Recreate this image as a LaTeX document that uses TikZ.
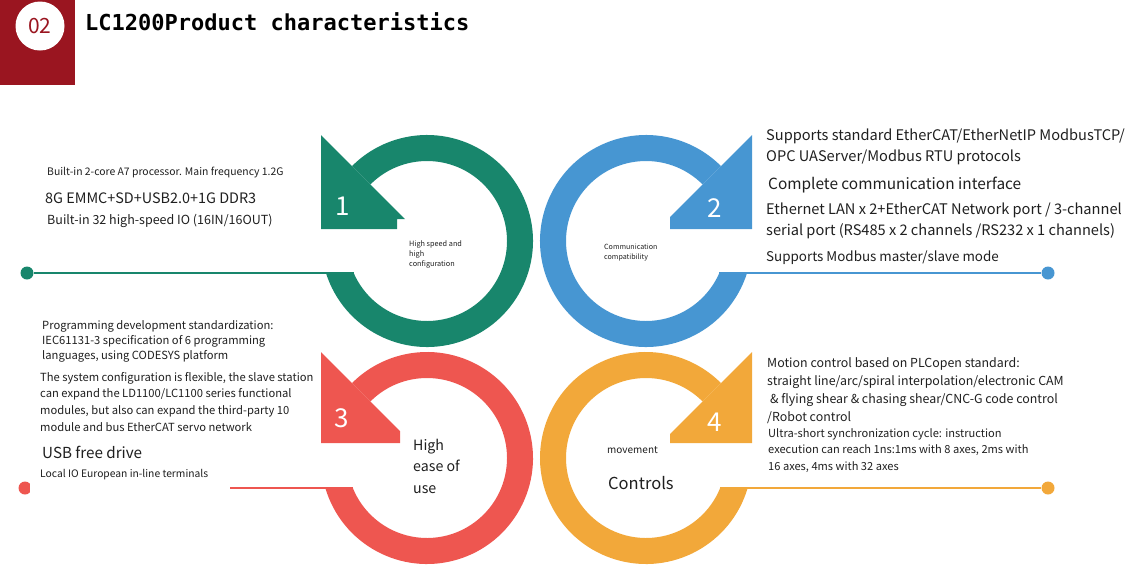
\documentclass[tikz,border=0pt]{standalone}
\usepackage{fontspec}
\setmainfont{Noto Sans CJK SC}
\newfontfamily\titlefont{DejaVu Sans Mono}
\usetikzlibrary{calc}

\definecolor{hdred}{RGB}{154,21,32}
\definecolor{ringgreen}{RGB}{24,134,108}
\definecolor{ringblue}{RGB}{71,150,210}
\definecolor{ringred}{RGB}{238,86,80}
\definecolor{ringorange}{RGB}{242,168,58}

\newcommand{\txtsize}[2]{\fontsize{#1}{#2}\selectfont}

\tikzset{
    txt/.style={anchor=north west, inner sep=0pt, align=left, text=black!88},
    enddot/.style={circle, minimum size=13pt, inner sep=0pt},
    link/.style={line width=2pt},
    digit/.style={text=white, inner sep=0pt, font=\txtsize{26}{26}},
}

\begin{document}
\begin{tikzpicture}[x=1pt, y=1pt]
    \useasboundingbox (0,0) rectangle (1137,-571);

    % header
    \node (badge) [rectangle, fill=hdred, minimum width=75, minimum height=85, anchor=north west, inner sep=0] at (0,0) {};
    \node (badgenum) [circle, fill=white, minimum size=49, inner sep=0] at (40,-26) {\txtsize{21}{21}\color{hdred}02};
    \node (title) [anchor=west, inner sep=0] at (85,-22) {\titlefont\bfseries\txtsize{22}{22}LC1200Product characteristics};

    % ring centers
    \coordinate (c1) at (427,-241);
    \coordinate (c2) at (646,-241);
    \coordinate (c3) at (427,-458);
    \coordinate (c4) at (646,-458);

    % ring 1
    \fill [ringgreen] ($(c1)+(197.55:106)$) arc[start angle=197.55, end angle=495, radius=106]
        -- ($(c1)+(135:80)$) arc[start angle=135, end angle=-156.42, radius=80] -- cycle;
    \fill [ringgreen] (321,-135) -- (321,-229) -- (397,-229) -- (397,-219) -- (405,-219) -- cycle;
    % ring 2
    \fill [ringblue] ($(c2)+(-17.55:106)$) arc[start angle=-17.55, end angle=-315, radius=106]
        -- ($(c2)+(45:80)$) arc[start angle=-315, end angle=-23.58, radius=80] -- cycle;
    \fill [ringblue] (752,-135) -- (752,-229) -- (670,-229) -- (670,-217) -- cycle;
    % ring 3
    \fill [ringred] ($(c3)+(196.44:106)$) arc[start angle=196.44, end angle=495, radius=106]
        -- ($(c3)+(135:80)$) arc[start angle=135, end angle=-157.98, radius=80] -- cycle;
    \fill [ringred] (321,-352) -- (321,-443) -- (400,-443) -- (400,-431) -- cycle;
    % ring 4
    \fill [ringorange] ($(c4)+(-16.44:106)$) arc[start angle=-16.44, end angle=-315, radius=106]
        -- ($(c4)+(45:80)$) arc[start angle=-315, end angle=-22.02, radius=80] -- cycle;
    \fill [ringorange] (752,-352) -- (752,-443) -- (670,-443) -- (670,-434) -- cycle;

    % connectors
    \node (gdot) [enddot, fill=ringgreen] at (27,-273) {};
    \node (bdot) [enddot, fill=ringblue] at (1048,-273) {};
    \node (rdot) [enddot, fill=ringred] at (25,-488) {};
    \node (odot) [enddot, fill=ringorange] at (1048,-488) {};
    \coordinate (gcut) at (354,-273);
    \coordinate (bcut) at (719,-273);
    \coordinate (rcut) at (353,-488);
    \coordinate (ocut) at (720,-488);
    \draw [link, ringgreen] (gdot) -- (gcut);
    \draw [link, ringblue] (bcut) -- (bdot);
    \draw [link, ringred] (rdot) -- (rcut);
    \draw [link, ringorange] (ocut) -- (odot);
    \fill [white] (30,-440) rectangle (230,-494);

    % digits
    \node (n1) [digit] at (343,-206) {1};
    \node (n2) [digit] at (715,-208) {2};
    \node (n3) [digit] at (342,-418) {3};
    \node (n4) [digit] at (715,-422) {4};

    % inner labels
    \node (lab1) [txt, font=\txtsize{7.3}{10}] at (409,-240.5) {High speed and\\ high\\configuration};
    \node (lab2) [txt, font=\txtsize{7.1}{10}] at (604,-244) {Communication\\compatibility};
    \node (lab3) [txt, font=\txtsize{14.2}{21.5}] at (413,-438.6) {High\\ease of\\use};
    \node (lab4a) [txt, font=\txtsize{10}{12}] at (607,-446.5) {movement};
    \node (lab4b) [txt, font=\txtsize{16.5}{20}] at (608,-476) {Controls};

    % texts of ring 1
    \node (t1a) [txt, font=\txtsize{10.4}{13}] at (47,-167.3) {Built-in 2-core A7 processor. Main frequency 1.2G};
    \node (t1b) [txt, font=\txtsize{14.4}{17}] at (45,-192.5) {8G EMMC+SD+USB2.0+1G DDR3};
    \node (t1c) [txt, font=\txtsize{12.5}{15}] at (47,-214.4) {Built-in 32 high-speed IO (16IN/16OUT)};

    % texts of ring 2
    \node (t2a) [txt, font=\txtsize{14.6}{21}] at (766,-128.4) {Supports standard EtherCAT/EtherNetIP ModbusTCP/\\OPC UAServer/Modbus RTU protocols};
    \node (t2b) [txt, font=\txtsize{15.4}{19}] at (768,-177) {Complete communication interface};
    \node (t2c) [txt, font=\txtsize{14.6}{21}] at (766,-202.4) {Ethernet LAN x 2+EtherCAT Network port / 3-channel\\serial port (RS485 x 2 channels /RS232 x 1 channels)};
    \node (t2d) [txt, font=\txtsize{13.4}{16}] at (766,-251) {Supports Modbus master/slave mode};

    % texts of ring 3
    \node (t3a) [txt, font=\txtsize{11.2}{15}] at (42,-320) {Programming development standardization:\\IEC61131-3 specification of 6 programming\\languages, using CODESYS platform};
    \node (t3b) [txt, font=\txtsize{11.2}{16.7}] at (40,-372) {The system configuration is flexible, the slave station\\can expand the LD1100/LC1100 series functional\\modules, but also can expand the third-party 10\\module and bus EtherCAT servo network};
    \node (t3c) [txt, font=\txtsize{15.2}{18}] at (42,-446.2) {USB free drive};
    \node (t3d) [txt, font=\txtsize{10.3}{12}] at (40,-469.4) {Local IO European in-line terminals};

    % texts of ring 4
    \node (t4a) [txt, font=\txtsize{12.4}{18}] at (767,-357.4) {Motion control based on PLCopen standard:\\straight line/arc/spiral interpolation/electronic CAM\\\hspace{3pt}\& flying shear \& chasing shear/CNC-G code control\\/Robot control};
    \node (t4b) [txt, font=\txtsize{11.1}{16.5}] at (768,-428) {Ultra-short synchronization cycle: instruction\\execution can reach 1ns:1ms with 8 axes, 2ms with\\16 axes, 4ms with 32 axes};
\end{tikzpicture}
\end{document}
